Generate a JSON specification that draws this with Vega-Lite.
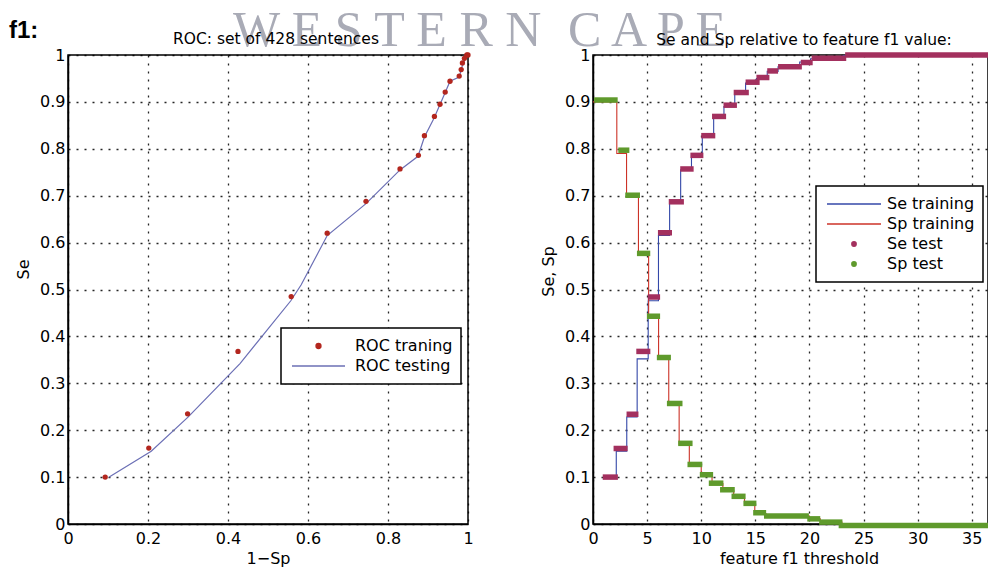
{
  "$schema": "https://vega.github.io/schema/vega-lite/v6.json",
  "background": "white",
  "padding": {"left": 8, "top": 5, "right": 0, "bottom": 2},
  "bounds": "flush",
  "spacing": 125,
  "resolve": {"scale": {"color": "independent"}, "legend": {"color": "independent"}},
  "datasets": {
    "roc_train": [
      {"fpr": 0.093, "se": 0.100, "series": "ROC traning"},
      {"fpr": 0.202, "se": 0.162, "series": "ROC traning"},
      {"fpr": 0.299, "se": 0.235, "series": "ROC traning"},
      {"fpr": 0.425, "se": 0.368, "series": "ROC traning"},
      {"fpr": 0.558, "se": 0.485, "series": "ROC traning"},
      {"fpr": 0.648, "se": 0.620, "series": "ROC traning"},
      {"fpr": 0.745, "se": 0.688, "series": "ROC traning"},
      {"fpr": 0.830, "se": 0.757, "series": "ROC traning"},
      {"fpr": 0.876, "se": 0.786, "series": "ROC traning"},
      {"fpr": 0.891, "se": 0.828, "series": "ROC traning"},
      {"fpr": 0.916, "se": 0.869, "series": "ROC traning"},
      {"fpr": 0.930, "se": 0.895, "series": "ROC traning"},
      {"fpr": 0.943, "se": 0.921, "series": "ROC traning"},
      {"fpr": 0.955, "se": 0.944, "series": "ROC traning"},
      {"fpr": 0.978, "se": 0.955, "series": "ROC traning"},
      {"fpr": 0.983, "se": 0.969, "series": "ROC traning"},
      {"fpr": 0.986, "se": 0.983, "series": "ROC traning"},
      {"fpr": 0.991, "se": 0.993, "series": "ROC traning"},
      {"fpr": 0.997, "se": 1.000, "series": "ROC traning"},
      {"fpr": 1.000, "se": 1.000, "series": "ROC traning"}
    ],
    "roc_test": [
      {"fpr": 0.103, "se": 0.100, "series": "ROC testing"},
      {"fpr": 0.208, "se": 0.155, "series": "ROC testing"},
      {"fpr": 0.300, "se": 0.228, "series": "ROC testing"},
      {"fpr": 0.430, "se": 0.342, "series": "ROC testing"},
      {"fpr": 0.557, "se": 0.476, "series": "ROC testing"},
      {"fpr": 0.583, "se": 0.510, "series": "ROC testing"},
      {"fpr": 0.648, "se": 0.615, "series": "ROC testing"},
      {"fpr": 0.745, "se": 0.683, "series": "ROC testing"},
      {"fpr": 0.830, "se": 0.755, "series": "ROC testing"},
      {"fpr": 0.875, "se": 0.784, "series": "ROC testing"},
      {"fpr": 0.891, "se": 0.825, "series": "ROC testing"},
      {"fpr": 0.915, "se": 0.865, "series": "ROC testing"},
      {"fpr": 0.943, "se": 0.920, "series": "ROC testing"},
      {"fpr": 0.955, "se": 0.944, "series": "ROC testing"},
      {"fpr": 0.978, "se": 0.953, "series": "ROC testing"},
      {"fpr": 0.985, "se": 0.975, "series": "ROC testing"},
      {"fpr": 0.993, "se": 0.993, "series": "ROC testing"},
      {"fpr": 1.000, "se": 1.000, "series": "ROC testing"}
    ],
    "watermark": [
      {"fpr": 0.4125, "se": 1.019, "label": "W E S T E R N"},
      {"fpr": 1.25, "se": 1.019, "label": "C A P E"}
    ],
    "panel_label": [
      {"fpr": -0.1475, "se": 1.036, "label": "f1:"}
    ],
    "left_title": [
      {"fpr": 0.52, "se": 1.0235, "label": "ROC: set of 428 sentences"}
    ],
    "right_title": [
      {"thr": 19.5, "val": 1.022, "label": "Se and Sp relative to feature f1 value:"}
    ],
    "train_steps": [
      {"series": "Se training", "thr": 1.0, "val": 0.100},
      {"series": "Se training", "thr": 2.15, "val": 0.155},
      {"series": "Se training", "thr": 3.12, "val": 0.228},
      {"series": "Se training", "thr": 4.08, "val": 0.352},
      {"series": "Se training", "thr": 5.1, "val": 0.476},
      {"series": "Se training", "thr": 6.05, "val": 0.615},
      {"series": "Se training", "thr": 7.08, "val": 0.685},
      {"series": "Se training", "thr": 8.1, "val": 0.755},
      {"series": "Se training", "thr": 9.1, "val": 0.785},
      {"series": "Se training", "thr": 10.1, "val": 0.825},
      {"series": "Se training", "thr": 11.15, "val": 0.865},
      {"series": "Se training", "thr": 12.1, "val": 0.890},
      {"series": "Se training", "thr": 13.1, "val": 0.920},
      {"series": "Se training", "thr": 14.1, "val": 0.940},
      {"series": "Se training", "thr": 15.1, "val": 0.950},
      {"series": "Se training", "thr": 16.1, "val": 0.965},
      {"series": "Se training", "thr": 17.1, "val": 0.975},
      {"series": "Se training", "thr": 19.1, "val": 0.985},
      {"series": "Se training", "thr": 20.1, "val": 0.992},
      {"series": "Se training", "thr": 23.1, "val": 0.999},
      {"series": "Se training", "thr": 36.5, "val": 0.999},
      {"series": "Sp training", "thr": 0.0, "val": 0.900},
      {"series": "Sp training", "thr": 2.2, "val": 0.790},
      {"series": "Sp training", "thr": 3.1, "val": 0.700},
      {"series": "Sp training", "thr": 4.2, "val": 0.575},
      {"series": "Sp training", "thr": 5.14, "val": 0.440},
      {"series": "Sp training", "thr": 6.06, "val": 0.355},
      {"series": "Sp training", "thr": 7.0, "val": 0.255},
      {"series": "Sp training", "thr": 7.96, "val": 0.170},
      {"series": "Sp training", "thr": 8.9, "val": 0.125},
      {"series": "Sp training", "thr": 10.0, "val": 0.102},
      {"series": "Sp training", "thr": 11.0, "val": 0.086},
      {"series": "Sp training", "thr": 12.0, "val": 0.071},
      {"series": "Sp training", "thr": 13.0, "val": 0.057},
      {"series": "Sp training", "thr": 14.0, "val": 0.044},
      {"series": "Sp training", "thr": 14.95, "val": 0.022},
      {"series": "Sp training", "thr": 16.0, "val": 0.017},
      {"series": "Sp training", "thr": 20.0, "val": 0.011},
      {"series": "Sp training", "thr": 21.0, "val": 0.004},
      {"series": "Sp training", "thr": 23.0, "val": 0.0},
      {"series": "Sp training", "thr": 36.5, "val": 0.0}
    ],
    "test_steps": [
      {"series": "Se test", "thr": 0.9, "thr_end": 2.3, "val": 0.100},
      {"series": "Se test", "thr": 1.9, "thr_end": 3.2, "val": 0.161},
      {"series": "Se test", "thr": 3.1, "thr_end": 4.2, "val": 0.234},
      {"series": "Se test", "thr": 4.0, "thr_end": 5.3, "val": 0.368},
      {"series": "Se test", "thr": 5.06, "thr_end": 6.2, "val": 0.484},
      {"series": "Se test", "thr": 6.0, "thr_end": 7.3, "val": 0.621},
      {"series": "Se test", "thr": 7.0, "thr_end": 8.4, "val": 0.687},
      {"series": "Se test", "thr": 8.06, "thr_end": 9.3, "val": 0.757},
      {"series": "Se test", "thr": 9.0, "thr_end": 10.2, "val": 0.786},
      {"series": "Se test", "thr": 10.0, "thr_end": 11.3, "val": 0.828},
      {"series": "Se test", "thr": 11.0, "thr_end": 12.3, "val": 0.869},
      {"series": "Se test", "thr": 12.06, "thr_end": 13.3, "val": 0.893},
      {"series": "Se test", "thr": 13.0, "thr_end": 14.4, "val": 0.920},
      {"series": "Se test", "thr": 14.1, "thr_end": 15.4, "val": 0.942},
      {"series": "Se test", "thr": 15.1, "thr_end": 16.3, "val": 0.952},
      {"series": "Se test", "thr": 16.1, "thr_end": 17.1, "val": 0.966},
      {"series": "Se test", "thr": 17.1, "thr_end": 19.3, "val": 0.975},
      {"series": "Se test", "thr": 19.2, "thr_end": 20.3, "val": 0.984},
      {"series": "Se test", "thr": 20.2, "thr_end": 23.4, "val": 0.993},
      {"series": "Se test", "thr": 23.3, "thr_end": 36.5, "val": 1.0},
      {"series": "Sp test", "thr": 0.1, "thr_end": 2.28, "val": 0.904},
      {"series": "Sp test", "thr": 2.34, "thr_end": 3.36, "val": 0.797},
      {"series": "Sp test", "thr": 2.98, "thr_end": 4.34, "val": 0.701},
      {"series": "Sp test", "thr": 4.06, "thr_end": 5.29, "val": 0.577},
      {"series": "Sp test", "thr": 4.98, "thr_end": 6.2, "val": 0.443},
      {"series": "Sp test", "thr": 5.9, "thr_end": 7.2, "val": 0.355},
      {"series": "Sp test", "thr": 6.83, "thr_end": 8.27, "val": 0.257},
      {"series": "Sp test", "thr": 7.87, "thr_end": 9.2, "val": 0.172},
      {"series": "Sp test", "thr": 8.73, "thr_end": 10.1, "val": 0.127},
      {"series": "Sp test", "thr": 9.87, "thr_end": 11.1, "val": 0.105},
      {"series": "Sp test", "thr": 10.7, "thr_end": 12.05, "val": 0.087},
      {"series": "Sp test", "thr": 11.74, "thr_end": 13.1, "val": 0.073},
      {"series": "Sp test", "thr": 12.8, "thr_end": 14.1, "val": 0.059},
      {"series": "Sp test", "thr": 13.9, "thr_end": 15.1, "val": 0.044},
      {"series": "Sp test", "thr": 14.8, "thr_end": 16.0, "val": 0.024},
      {"series": "Sp test", "thr": 15.8, "thr_end": 19.95, "val": 0.017},
      {"series": "Sp test", "thr": 19.8, "thr_end": 21.0, "val": 0.011},
      {"series": "Sp test", "thr": 20.9, "thr_end": 23.05, "val": 0.004},
      {"series": "Sp test", "thr": 22.7, "thr_end": 36.5, "val": -0.003}
    ]
  },
  "hconcat": [
    {
      "width": 400,
      "height": 469,
      "encoding": {
        "x": {"field": "fpr", "type": "quantitative", "scale": {"domain": [0, 1]},
              "axis": {"title": "1−Sp", "values": [0, 0.2, 0.4, 0.6, 0.8, 1], "format": "~g"}},
        "y": {"field": "se", "type": "quantitative", "scale": {"domain": [0, 1]},
              "axis": {"title": "Se", "titleY": 214, "values": [0, 0.1, 0.2, 0.3, 0.4, 0.5, 0.6, 0.7, 0.8, 0.9, 1], "format": "~g"}}
      },
      "layer": [
        {
          "data": {"name": "watermark"},
          "mark": {"type": "text", "font": "Liberation Serif", "fontSize": 50, "color": "#a9abb6", "align": "left", "baseline": "alphabetic"},
          "encoding": {"text": {"field": "label"}}
        },
        {
          "data": {"name": "panel_label"},
          "mark": {"type": "text", "font": "Liberation Sans", "fontSize": 24, "fontWeight": "bold", "color": "black", "align": "left", "baseline": "alphabetic"},
          "encoding": {"text": {"field": "label"}}
        },
        {
          "data": {"name": "left_title"},
          "mark": {"type": "text", "font": "DejaVu Sans", "fontSize": 15.5, "color": "black", "align": "center", "baseline": "alphabetic"},
          "encoding": {"text": {"field": "label"}}
        },
        {
          "data": {"name": "roc_test"},
          "mark": {"type": "line", "strokeWidth": 1.2},
          "encoding": {
            "color": {"field": "series", "type": "nominal",
              "scale": {"domain": ["ROC traning", "ROC testing"], "range": ["#b3261e", "#6b6fb5"]},
              "legend": {
                "title": null, "orient": "none", "legendX": 213, "legendY": 273,
                "fillColor": "white", "strokeColor": "black", "padding": 8,
                "symbolSize": 2809, "symbolStrokeWidth": 1.3, "symbolOffset": 2,
                "clipHeight": 20, "rowPadding": 0, "labelOffset": 9,
                "labelFont": "DejaVu Sans", "labelFontSize": 16, "labelColor": "black",
                "encode": {
                  "legend": {"update": {"strokeWidth": {"value": 1.5}}},
                  "symbols": {"update": {
                    "shape": {"signal": "datum.value === 'ROC traning' ? 'circle' : 'stroke'"},
                    "size": {"signal": "datum.value === 'ROC traning' ? 25 : 2809"},
                    "fill": {"signal": "datum.value === 'ROC traning' ? '#b3261e' : 'transparent'"},
                    "stroke": {"signal": "datum.value === 'ROC traning' ? 'transparent' : '#6b6fb5'"},
                    "strokeWidth": {"value": 1.3},
                    "opacity": {"value": 1}
                  }}
                }
              }
            }
          }
        },
        {
          "data": {"name": "roc_train"},
          "mark": {"type": "point", "filled": true, "size": 28, "opacity": 1},
          "encoding": {
            "color": {"field": "series", "type": "nominal",
              "scale": {"domain": ["ROC traning", "ROC testing"], "range": ["#b3261e", "#6b6fb5"]}}
          }
        }
      ]
    },
    {
      "width": 395,
      "height": 469,
      "encoding": {
        "x": {"field": "thr", "type": "quantitative", "scale": {"domain": [0, 36.5]},
              "axis": {"title": "feature f1 threshold", "values": [0, 5, 10, 15, 20, 25, 30, 35], "titleX": 206}},
        "y": {"field": "val", "type": "quantitative", "scale": {"domain": [0, 1]},
              "axis": {"title": "Se, Sp", "titleY": 216, "values": [0, 0.1, 0.2, 0.3, 0.4, 0.5, 0.6, 0.7, 0.8, 0.9, 1], "format": "~g"}}
      },
      "layer": [
        {
          "data": {"name": "right_title"},
          "mark": {"type": "text", "font": "DejaVu Sans", "fontSize": 15.5, "color": "black", "align": "center", "baseline": "alphabetic"},
          "encoding": {"text": {"field": "label"}}
        },
        {
          "data": {"name": "train_steps"},
          "mark": {"type": "line", "interpolate": "step-after", "strokeWidth": 1.1},
          "encoding": {
            "color": {"field": "series", "type": "nominal",
              "scale": {"domain": ["Se training", "Sp training", "Se test", "Sp test"], "range": ["#3448a8", "#cc3328", "#a3305e", "#5f9a2c"]},
              "legend": {
                "title": null, "orient": "none", "legendX": 223, "legendY": 131,
                "fillColor": "white", "strokeColor": "black", "padding": 8,
                "symbolSize": 2916, "symbolStrokeWidth": 1.3, "symbolOffset": 2,
                "clipHeight": 20, "rowPadding": 0, "labelOffset": 5,
                "labelFont": "DejaVu Sans", "labelFontSize": 16, "labelColor": "black",
                "encode": {
                  "legend": {"update": {"strokeWidth": {"value": 1.5}}},
                  "symbols": {"update": {
                    "shape": {"signal": "(datum.value === 'Se test' || datum.value === 'Sp test') ? 'circle' : 'stroke'"},
                    "size": {"signal": "(datum.value === 'Se test' || datum.value === 'Sp test') ? 20 : 2916"},
                    "fill": {"signal": "datum.value === 'Se test' ? '#a3305e' : (datum.value === 'Sp test' ? '#5f9a2c' : 'transparent')"},
                    "stroke": {"signal": "datum.value === 'Se training' ? '#3448a8' : (datum.value === 'Sp training' ? '#cc3328' : 'transparent')"},
                    "strokeWidth": {"value": 1.3},
                    "opacity": {"value": 1}
                  }}
                }
              }
            }
          }
        },
        {
          "data": {"name": "test_steps"},
          "mark": {"type": "rule", "strokeWidth": 5.5, "strokeCap": "butt"},
          "encoding": {
            "x2": {"field": "thr_end"},
            "color": {"field": "series", "type": "nominal",
              "scale": {"domain": ["Se training", "Sp training", "Se test", "Sp test"], "range": ["#3448a8", "#cc3328", "#a3305e", "#5f9a2c"]}}
          }
        }
      ]
    }
  ],
  "config": {
    "view": {"stroke": "black", "strokeWidth": 1.5},
    "axis": {
      "labelFont": "DejaVu Sans", "labelFontSize": 16, "labelColor": "black",
      "titleFont": "DejaVu Sans", "titleFontSize": 16, "titleFontWeight": "normal", "titleColor": "black",
      "domainColor": "black", "domainWidth": 1.5, "ticks": false,
      "grid": true, "gridColor": "black", "gridDash": [2, 6], "gridWidth": 1.3, "gridOpacity": 0.85,
      "labelOverlap": false, "labelFlush": false, "labelBound": false
    },
    "axisX": {"labelPadding": 6, "titlePadding": 4},
    "axisY": {"labelPadding": 3, "titlePadding": 8}
  }
}
